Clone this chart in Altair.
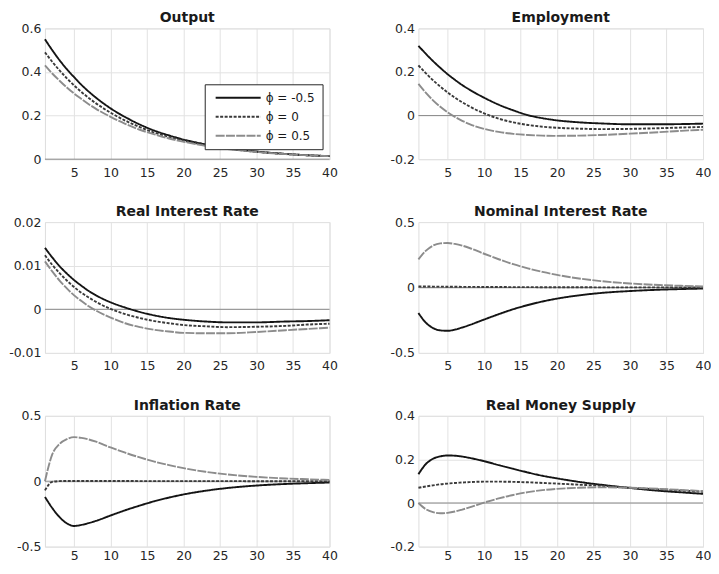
import altair as alt
import pandas as pd

# ---------------- data ----------------
T = [1, 2, 3, 4, 5, 6, 7, 8, 10, 12, 14, 16, 18, 20, 23, 26, 30, 34, 37, 40]
SERIES = ["ϕ = -0.5", "ϕ = 0", "ϕ = 0.5"]
X_TICKS = [5, 10, 15, 20, 25, 30, 35, 40]

output_m = [0.550, 0.500, 0.454, 0.413, 0.376, 0.341, 0.310, 0.282, 0.233, 0.193, 0.159, 0.131, 0.109, 0.090, 0.068, 0.051, 0.035, 0.024, 0.018, 0.014]
output_0 = [0.490, 0.447, 0.407, 0.371, 0.338, 0.308, 0.281, 0.256, 0.213, 0.177, 0.147, 0.122, 0.102, 0.085, 0.065, 0.049, 0.034, 0.024, 0.018, 0.014]
output_p = [0.430, 0.393, 0.360, 0.329, 0.301, 0.276, 0.252, 0.231, 0.194, 0.162, 0.135, 0.114, 0.095, 0.080, 0.061, 0.047, 0.033, 0.023, 0.018, 0.014]

emp_m = [0.320, 0.284, 0.250, 0.219, 0.190, 0.164, 0.140, 0.119, 0.082, 0.050, 0.024, 0.002, -0.012, -0.022, -0.031, -0.036, -0.040, -0.040, -0.039, -0.037]
emp_0 = [0.230, 0.195, 0.162, 0.133, 0.106, 0.082, 0.061, 0.042, 0.010, -0.014, -0.031, -0.043, -0.051, -0.056, -0.060, -0.062, -0.061, -0.058, -0.055, -0.052]
emp_p = [0.145, 0.105, 0.070, 0.040, 0.015, -0.006, -0.024, -0.039, -0.061, -0.075, -0.084, -0.089, -0.092, -0.093, -0.092, -0.089, -0.083, -0.076, -0.070, -0.065]

rir_m = [0.0141, 0.0119, 0.0099, 0.0082, 0.0067, 0.0054, 0.0042, 0.0032, 0.0016, 0.0004, -0.0006, -0.0014, -0.0020, -0.0024, -0.0028, -0.0030, -0.0030, -0.0028, -0.0027, -0.0025]
rir_0 = [0.0124, 0.0102, 0.0083, 0.0066, 0.0051, 0.0038, 0.0027, 0.0017, 0.0001, -0.0011, -0.0020, -0.0027, -0.0032, -0.0036, -0.0039, -0.0041, -0.0040, -0.0038, -0.0035, -0.0033]
rir_p = [0.0110, 0.0087, 0.0066, 0.0048, 0.0032, 0.0019, 0.0007, -0.0003, -0.0019, -0.0032, -0.0041, -0.0047, -0.0051, -0.0054, -0.0055, -0.0055, -0.0052, -0.0048, -0.0045, -0.0042]

nir_m = [-0.195, -0.268, -0.310, -0.328, -0.331, -0.322, -0.306, -0.287, -0.245, -0.204, -0.166, -0.134, -0.107, -0.085, -0.060, -0.042, -0.027, -0.017, -0.012, -0.008]
nir_0 = [0.008, 0.008, 0.007, 0.007, 0.006, 0.006, 0.005, 0.005, 0.004, 0.004, 0.003, 0.003, 0.002, 0.002, 0.002, 0.001, 0.001, 0.001, 0.000, 0.000]
nir_p = [0.215, 0.280, 0.320, 0.337, 0.340, 0.333, 0.320, 0.302, 0.258, 0.216, 0.178, 0.146, 0.119, 0.096, 0.069, 0.049, 0.031, 0.019, 0.013, 0.008]

inf_m = [-0.120, -0.205, -0.275, -0.322, -0.342, -0.334, -0.320, -0.303, -0.262, -0.222, -0.186, -0.153, -0.125, -0.101, -0.073, -0.052, -0.033, -0.021, -0.015, -0.010]
inf_0 = [-0.070, -0.005, 0.001, 0.002, 0.002, 0.002, 0.002, 0.002, 0.002, 0.002, 0.001, 0.001, 0.001, 0.001, 0.001, 0.001, 0.000, 0.000, 0.000, 0.000]
inf_p = [0.000, 0.205, 0.285, 0.322, 0.337, 0.331, 0.319, 0.302, 0.258, 0.218, 0.182, 0.150, 0.123, 0.100, 0.072, 0.052, 0.033, 0.021, 0.015, 0.010]

rms_m = [0.132, 0.178, 0.203, 0.214, 0.218, 0.217, 0.213, 0.207, 0.192, 0.174, 0.157, 0.140, 0.125, 0.113, 0.097, 0.084, 0.069, 0.056, 0.049, 0.042]
rms_0 = [0.070, 0.076, 0.081, 0.086, 0.089, 0.092, 0.094, 0.096, 0.098, 0.098, 0.097, 0.095, 0.092, 0.089, 0.084, 0.079, 0.070, 0.062, 0.057, 0.052]
rms_p = [0.000, -0.028, -0.042, -0.047, -0.045, -0.039, -0.030, -0.020, 0.002, 0.021, 0.037, 0.050, 0.059, 0.065, 0.070, 0.072, 0.070, 0.065, 0.060, 0.055]

PANELS = [
    ("Output", [0, 0.6], [0, 0.2, 0.4, 0.6], [output_m, output_0, output_p]),
    ("Employment", [-0.2, 0.4], [-0.2, 0, 0.2, 0.4], [emp_m, emp_0, emp_p]),
    ("Real Interest Rate", [-0.01, 0.02], [-0.01, 0, 0.01, 0.02], [rir_m, rir_0, rir_p]),
    ("Nominal Interest Rate", [-0.5, 0.5], [-0.5, 0, 0.5], [nir_m, nir_0, nir_p]),
    ("Inflation Rate", [-0.5, 0.5], [-0.5, 0, 0.5], [inf_m, inf_0, inf_p]),
    ("Real Money Supply", [-0.2, 0.4], [-0.2, 0, 0.2, 0.4], [rms_m, rms_0, rms_p]),
]

# ---------------- style ----------------
FONT = "DejaVu Sans"
COLORS = ["#141414", "#3a3a3a", "#8c8c8c"]
DASHES = [[1, 0], [3, 1.5], [9, 1.3]]
GRID = "#e2e2e2"
TXT = "#262626"
W, H = 285, 131


def panel(title, ydom, yticks, vals, show_legend, xpad):
    rows = []
    for name, v in zip(SERIES, vals):
        for t, y in zip(T, v):
            rows.append({"t": t, "v": y, "s": name})
    df = pd.DataFrame(rows)

    if show_legend:
        leg = alt.Legend(
            orient="none", legendX=160, legendY=56,
            fillColor="white", strokeColor=TXT, padding=7,
            symbolType="M-4.1,0H4.1", symbolSize=121, symbolStrokeWidth=2,
            symbolOffset=20, labelOffset=21,
            labelFont=FONT, labelFontSize=12, labelColor="#1a1a1a",
            rowPadding=6, cornerRadius=0,
        )
    else:
        leg = None

    xaxis = alt.Axis(values=X_TICKS, format="d", title=None, grid=True, gridColor=GRID,
                     ticks=False, domain=False, labelFont=FONT, labelFontSize=12.5,
                     labelColor=TXT, labelPadding=xpad, labelFlush=False)
    yaxis = alt.Axis(values=yticks, format="~g", title=None, grid=True, gridColor=GRID,
                     ticks=False, domain=False, labelFont=FONT, labelFontSize=12.5,
                     labelColor=TXT, labelPadding=4, labelFlush=False,
                     labelExpr="replace(datum.label, '\u2212', '-')")

    xs = alt.Scale(domain=[1, 40], nice=False, zero=False)
    ys = alt.Scale(domain=ydom, nice=False, zero=False)

    zero = alt.Chart(pd.DataFrame({"z": [0]})).mark_rule(color="#8a8a8a", strokeWidth=1).encode(
        y=alt.Y("z:Q", scale=ys, axis=yaxis)
    )
    lines = alt.Chart(df).mark_line(strokeWidth=1.9, interpolate="monotone").encode(
        x=alt.X("t:Q", scale=xs, axis=xaxis),
        y=alt.Y("v:Q", scale=ys, axis=yaxis),
        color=alt.Color("s:N", scale=alt.Scale(domain=SERIES, range=COLORS), legend=leg, title=None),
        strokeDash=alt.StrokeDash("s:N", scale=alt.Scale(domain=SERIES, range=DASHES), legend=leg, title=None),
    )
    return alt.layer(zero, lines).properties(
        width=W, height=H,
        title=alt.Title(title, font=FONT, fontSize=14, fontWeight="bold", color="#1a1a1a",
                        offset=-3, anchor="middle"),
    )


charts = [panel(t, d, tk, v, i == 0, 3 if i >= 4 else 7)
          for i, (t, d, tk, v) in enumerate(PANELS)]

chart = alt.ConcatChart(
    concat=charts, columns=2,
    spacing={"row": 63, "column": 89},
    bounds="flush",
    padding={"left": 0, "top": 2, "right": -1, "bottom": 0},
).resolve_scale(
    x="independent", y="independent", color="independent", strokeDash="independent"
).configure_view(stroke=TXT, strokeWidth=1).configure(background="white")

chart.save("out.html", embed_options={"renderer": "svg", "actions": False})
